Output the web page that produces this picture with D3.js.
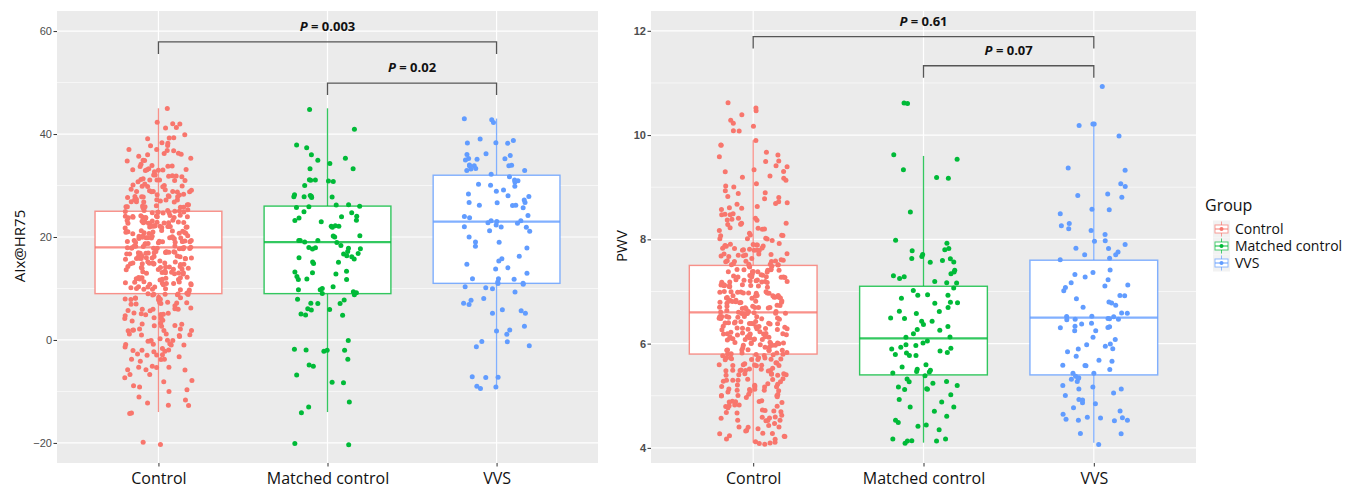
<!DOCTYPE html>
<html><head><meta charset="utf-8">
<script src="https://cdn.jsdelivr.net/npm/d3@7"></script>
<style>body{margin:0;background:#fff} svg{display:block}</style>
</head><body>
<svg id="chart" width="1360" height="491"></svg>
<script>
const groups = ["Control", "Matched control", "VVS"];
const colors = ["#F8766D", "#00BA38", "#619CFF"];
const aixTicks = [-20, 0, 20, 40, 60];
const aixMinor = [-10, 10, 30, 50];
const pwvTicks = [4, 6, 8, 10, 12];
const pwvMinor = [5, 7, 9, 11];

const aixControl = [45,42,42,41,41,40,42,
39,39,38,38,38,37,37,37,36,36,36,36,35,35,35,38,37,39,36,35,
34,34,34,33,33,33,33,33,32,32,32,32,31,31,31,31,31,30,30,30,30,30,34,33,32,31,30,34,33,32,31,30,33,31,
29,29,29,29,29,29,29,29,29,29,28,28,28,28,28,28,28,28,28,28,
27,27,27,27,27,27,27,27,27,27,26,26,26,26,26,26,26,26,26,26,
25,25,25,25,25,25,25,25,25,25,25,25,
24,24,24,24,24,24,24,24,24,24,24,24,24,24,23,23,23,23,23,23,23,23,23,23,23,23,23,23,
22,22,22,22,22,22,22,22,22,22,22,22,22,22,21,21,21,21,21,21,21,21,21,21,21,21,21,21,
20,20,20,20,20,20,20,20,20,20,20,20,20,20,
19,19,19,19,19,19,19,19,19,19,19,19,19,19,19,18,18,18,18,18,18,18,18,18,18,18,18,18,18,18,
17,17,17,17,17,17,17,17,17,17,17,17,17,17,16,16,16,16,16,16,16,16,16,16,16,16,16,16,
15,15,15,15,15,15,15,15,15,15,15,15,15,
14,14,14,14,14,14,14,14,14,14,14,14,13,13,13,13,13,13,13,13,13,13,13,
12,12,12,12,12,12,12,12,12,12,12,11,11,11,11,11,11,11,11,11,11,11,
10,10,10,10,10,10,10,10,10,10,
9,9,9,9,9,9,9,9,9,8,8,8,8,8,8,8,8,7,7,7,7,7,7,7,7,6,6,6,6,6,6,6,5,5,5,5,5,5,5,
4,4,4,4,4,4,3,3,3,3,3,3,2,2,2,2,2,2,2,1,1,1,1,1,1,0,0,0,0,0,0,
-1,-1,-1,-1,-1,-1,-2,-2,-2,-2,-2,-2,-3,-3,-3,-3,-3,-4,-4,-4,-4,-5,-5,-5,-5,
-6,-6,-6,-7,-7,-7,-8,-8,-9,-9,-10,-10,
-11,-12,-12,-13,-13,-14,-14,-20,-20];

const aixMatched = [45,41,38,37,36,35,35,34,33,33,
31,31,31,31,31,30,28,28,28,28,28,28,28,26,26,26,26,26,
25,25,24,24,24,23,23,23,22,22,22,22,
20,20,20,19,19,19,19,19,18,18,18,18,18,18,
17,17,17,16,16,16,16,15,15,15,13,13,13,13,12,12,12,12,
10,10,10,10,9,9,9,9,8,8,7,7,7,6,6,6,5,5,5,
0,-2,-2,-2,-2,-2,-4,-5,-5,-7,-8,-8,-12,-13,-14,-20,-20];

const aixVVS = [43,43,42,39,39,38,38,38,
36,36,36,35,35,35,35,34,34,34,34,34,33,33,33,33,
32,32,31,31,31,30,30,30,29,29,28,28,28,27,27,27,27,26,26,26,26,
24,24,24,23,23,23,23,23,22,22,22,22,21,21,20,19,19,18,18,
16,16,15,15,14,14,13,12,12,12,11,11,11,11,10,10,10,
9,8,8,7,7,6,6,5,5,3,2,2,1,0,0,-1,-1,-7,-7,-7,-9,-9,-9.5];

const pwvControl = [10.6,10.5,10.5,10.4,10.3,10.2,10.2,10.1,10.1,
9.9,9.8,9.8,9.7,9.6,9.6,9.5,9.5,
9.4,9.4,9.3,9.3,9.2,9.2,9.2,9.1,9.1,9.0,9.0,9.3,
8.9,8.9,8.8,8.8,8.8,8.7,8.7,8.7,8.6,8.6,8.6,8.5,8.5,8.5,8.5,8.9,8.7,8.6,
8.4,8.4,8.4,8.4,8.4,8.3,8.3,8.3,8.3,8.3,8.2,8.2,8.2,8.2,8.2,8.1,8.1,8.1,8.1,8.1,8.0,8.0,8.0,8.0,8.0,
7.9,7.9,7.9,7.9,7.9,7.9,7.9,7.9,7.9,7.8,7.8,7.8,7.8,7.8,7.8,7.8,7.8,7.8,
7.7,7.7,7.7,7.7,7.7,7.7,7.7,7.7,7.7,7.6,7.6,7.6,7.6,7.6,7.6,7.6,7.6,7.6,
7.5,7.5,7.5,7.5,7.5,7.5,7.5,7.5,7.5,
7.4,7.4,7.4,7.4,7.4,7.4,7.4,7.4,7.4,7.4,7.4,7.3,7.3,7.3,7.3,7.3,7.3,7.3,7.3,7.3,7.3,7.3,
7.2,7.2,7.2,7.2,7.2,7.2,7.2,7.2,7.2,7.2,7.2,7.1,7.1,7.1,7.1,7.1,7.1,7.1,7.1,7.1,7.1,7.1,
7.0,7.0,7.0,7.0,7.0,7.0,7.0,7.0,7.0,7.0,7.0,
6.9,6.9,6.9,6.9,6.9,6.9,6.9,6.9,6.9,6.9,6.9,6.9,6.8,6.8,6.8,6.8,6.8,6.8,6.8,6.8,6.8,6.8,6.8,6.8,
6.7,6.7,6.7,6.7,6.7,6.7,6.7,6.7,6.7,6.7,6.7,6.7,6.6,6.6,6.6,6.6,6.6,6.6,6.6,6.6,6.6,6.6,6.6,6.6,
6.5,6.5,6.5,6.5,6.5,6.5,6.5,6.5,6.5,6.5,6.5,6.5,
6.4,6.4,6.4,6.4,6.4,6.4,6.4,6.4,6.4,6.4,6.4,6.4,6.3,6.3,6.3,6.3,6.3,6.3,6.3,6.3,6.3,6.3,6.3,6.3,
6.2,6.2,6.2,6.2,6.2,6.2,6.2,6.2,6.2,6.2,6.2,6.2,6.1,6.1,6.1,6.1,6.1,6.1,6.1,6.1,6.1,6.1,6.1,6.1,
6.0,6.0,6.0,6.0,6.0,6.0,6.0,6.0,6.0,6.0,6.0,6.0,
5.9,5.9,5.9,5.9,5.9,5.9,5.9,5.9,5.9,5.9,5.8,5.8,5.8,5.8,5.8,5.8,5.8,5.8,5.8,5.8,
5.7,5.7,5.7,5.7,5.7,5.7,5.7,5.7,5.7,5.7,5.6,5.6,5.6,5.6,5.6,5.6,5.6,5.6,5.6,5.6,
5.5,5.5,5.5,5.5,5.5,5.5,5.5,5.5,5.5,5.5,
5.4,5.4,5.4,5.4,5.4,5.4,5.4,5.4,5.3,5.3,5.3,5.3,5.3,5.3,5.3,5.3,5.2,5.2,5.2,5.2,5.2,5.2,5.2,5.2,
5.1,5.1,5.1,5.1,5.1,5.1,5.1,5.1,5.0,5.0,5.0,5.0,5.0,5.0,5.0,5.0,
4.9,4.9,4.9,4.9,4.9,4.9,4.8,4.8,4.8,4.8,4.8,4.8,4.7,4.7,4.7,4.7,4.7,4.7,4.6,4.6,4.6,4.6,4.6,4.5,4.5,4.5,4.5,4.5,
4.4,4.4,4.4,4.4,4.4,4.3,4.3,4.3,4.3,4.3,4.2,4.2,4.2,4.2,4.2,4.1,4.1,4.1,4.1,4.1];

const pwvMatched = [10.6,10.6,9.6,9.55,9.35,9.15,9.2,8.5,7.95,7.9,
7.8,7.8,7.75,7.7,7.7,7.65,7.6,7.6,7.55,7.55,
7.4,7.4,7.35,7.3,7.3,7.25,7.2,7.2,7.15,7.1,
7.0,6.95,6.9,6.9,6.85,6.8,6.8,6.75,6.7,6.65,
6.6,6.55,6.5,6.5,6.45,6.4,6.4,6.35,6.3,6.25,6.2,
6.1,6.1,6.05,6.0,6.0,5.95,5.95,5.9,5.9,5.85,5.85,5.8,5.8,5.75,5.75,
5.6,5.55,5.5,5.5,5.45,5.45,5.4,5.4,5.35,
5.3,5.3,5.25,5.2,5.2,5.15,5.1,5.1,
5.0,4.95,4.9,4.8,4.75,4.7,4.6,4.55,4.5,4.45,4.4,4.35,
4.2,4.2,4.15,4.15,4.1,4.1];

const pwvVVS = [10.9,10.2,10.2,10.2,10.0,9.4,9.3,9.05,9.0,8.9,8.85,8.8,
8.6,8.55,8.5,8.3,8.25,8.2,8.15,8.1,
8.0,7.95,7.9,7.85,7.8,7.75,7.7,7.7,7.65,7.6,
7.4,7.35,7.3,7.3,7.25,7.2,7.15,7.1,7.1,
7.0,6.95,6.9,6.85,6.8,6.8,6.75,6.7,
6.6,6.6,6.55,6.55,6.5,6.5,6.5,6.45,6.45,6.45,
6.4,6.35,6.35,6.3,6.3,6.3,6.25,6.25,
6.1,6.05,6.0,6.0,5.95,5.9,5.9,5.85,
5.75,5.7,5.65,5.6,5.6,5.55,5.5,
5.45,5.4,5.4,5.35,5.3,5.3,5.25,5.2,5.2,5.15,5.15,
5.05,5.0,4.95,4.9,4.9,4.85,4.8,
4.7,4.65,4.6,4.6,4.55,4.55,4.5,4.5,4.5,4.3,4.3,4.1];

// box stats: [lower whisker, Q1, median, Q3, upper whisker]
const aixStats = [[-14, 9, 18, 25, 45], [-14, 9, 19, 26, 45], [-9.5, 11, 23, 32, 43]];
const pwvStats = [[4.1, 5.8, 6.6, 7.5, 9.9], [4.1, 5.4, 6.1, 7.1, 9.6], [4.1, 5.4, 6.5, 7.6, 10.2]];

const aixBrackets = [{a: 0, b: 2, label: "0.003", at: 57.9}, {a: 1, b: 2, label: "0.02", at: 49.9}];
const pwvBrackets = [{a: 0, b: 2, label: "0.61", at: 11.89}, {a: 1, b: 2, label: "0.07", at: 11.33}];

const svg = d3.select("#chart");
const plotTop = 11, plotBottom = 463;
const sansFont = "'Open Sans', 'Liberation Sans', sans-serif";
const tickFont = "'Liberation Sans', Arial, sans-serif";

// deterministic jitter (position only, like geom_jitter)
function hashUnit(i, seed) {
  let h = (Math.imul(i + 1, 2654435761) ^ Math.imul(seed, 40503)) >>> 0;
  h ^= h >>> 16; h = Math.imul(h, 0x45d9f3b) >>> 0;
  h ^= h >>> 16; h = Math.imul(h, 0x45d9f3b) >>> 0;
  h ^= h >>> 16;
  return (h >>> 0) / 4294967296;
}

function drawPanel(cfg) {
  const g = svg.append("g");
  const x = d3.scalePoint().domain(groups).range([cfg.x0, cfg.x1]).padding(0.6);
  const y = d3.scaleLinear().domain(cfg.domain).range([plotBottom, plotTop]);
  const step = x.step();

  g.append("rect").attr("x", cfg.x0).attr("y", plotTop)
    .attr("width", cfg.x1 - cfg.x0).attr("height", plotBottom - plotTop).attr("fill", "#EBEBEB");

  g.selectAll(".minor").data(cfg.minor).join("line")
    .attr("x1", cfg.x0).attr("x2", cfg.x1)
    .attr("y1", d => y(d)).attr("y2", d => y(d))
    .attr("stroke", "#fff").attr("stroke-width", 0.6);
  g.selectAll(".major").data(cfg.ticks).join("line")
    .attr("x1", cfg.x0).attr("x2", cfg.x1)
    .attr("y1", d => y(d)).attr("y2", d => y(d))
    .attr("stroke", "#fff").attr("stroke-width", 1.2);
  g.selectAll(".vgrid").data(groups).join("line")
    .attr("x1", d => x(d)).attr("x2", d => x(d))
    .attr("y1", plotTop).attr("y2", plotBottom)
    .attr("stroke", "#fff").attr("stroke-width", 1.2);

  const bw = step * 0.75;
  groups.forEach((grp, gi) => {
    const s = cfg.stats[gi];
    const cx = x(grp);
    const c = colors[gi];
    const bg = g.append("g").attr("stroke", c).attr("stroke-opacity", 0.8);
    bg.append("line").attr("x1", cx).attr("x2", cx).attr("y1", y(s[4])).attr("y2", y(s[3])).attr("stroke-width", 1.3);
    bg.append("line").attr("x1", cx).attr("x2", cx).attr("y1", y(s[1])).attr("y2", y(s[0])).attr("stroke-width", 1.3);
    bg.append("rect").attr("x", cx - bw / 2).attr("y", y(s[3]))
      .attr("width", bw).attr("height", y(s[1]) - y(s[3]))
      .attr("fill", "#fff").attr("stroke-width", 1.4);
    bg.append("line").attr("x1", cx - bw / 2).attr("x2", cx + bw / 2)
      .attr("y1", y(s[2])).attr("y2", y(s[2])).attr("stroke-width", 2.2);
  });

  cfg.data.forEach((arr, gi) => {
    const cx = x(groups[gi]);
    const seed = cfg.seed + gi * 17;
    g.append("g").selectAll("circle").data(arr).join("circle")
      .attr("cx", (d, i) => cx + (hashUnit(i, seed) * 2 - 1) * step * 0.2)
      .attr("cy", (d, i) => y(d) + (hashUnit(i, seed + 101) * 2 - 1) * 1.8)
      .attr("r", 2.5)
      .attr("fill", colors[gi]);
  });

  const yAxis = d3.axisLeft(y).tickValues(cfg.ticks).tickSize(3.5).tickPadding(1.5)
    .tickFormat(d => (d < 0 ? "\u2212" + Math.abs(d) : d));
  const ya = g.append("g").attr("transform", `translate(${cfg.x0},0)`).call(yAxis);
  ya.select(".domain").remove();
  ya.selectAll("line").attr("stroke", "#333").attr("stroke-width", 1);
  ya.selectAll("text").attr("fill", "#4D4D4D").style("font-family", tickFont)
    .style("font-size", "11px").style("font-weight", cfg.tickWeight);

  const xAxis = d3.axisBottom(x).tickSize(3.5).tickPadding(6.5);
  const xa = g.append("g").attr("transform", `translate(0,${plotBottom})`).call(xAxis);
  xa.select(".domain").remove();
  xa.selectAll("line").attr("stroke", "#333").attr("stroke-width", 1);
  xa.selectAll("text").attr("fill", "#111").style("font-family", sansFont).style("font-size", "16px");

  g.append("text")
    .attr("transform", `translate(${cfg.titleX},${(plotTop + plotBottom) / 2 + 9}) rotate(-90)`)
    .attr("text-anchor", "middle")
    .style("font-family", sansFont).style("font-size", "15px").attr("fill", "#111")
    .text(cfg.title);

  cfg.brackets.forEach(b => {
    const xa1 = x(groups[b.a]), xb1 = x(groups[b.b]), yy = y(b.at);
    g.append("path")
      .attr("d", `M${xa1},${yy + 12}V${yy}H${xb1}V${yy + 12}`)
      .attr("fill", "none").attr("stroke", "#555").attr("stroke-width", 1.3);
    const t = g.append("text").attr("x", (xa1 + xb1) / 2).attr("y", yy - 11)
      .attr("text-anchor", "middle")
      .style("font-family", sansFont).style("font-size", "13px").style("font-weight", "700").attr("fill", "#111");
    t.append("tspan").style("font-style", "italic").text("P");
    t.append("tspan").text(" = " + b.label);
  });
}

drawPanel({x0: 57, x1: 598, domain: [-23.9, 63.9], ticks: aixTicks, minor: aixMinor, seed: 3,
  stats: aixStats, data: [aixControl, aixMatched, aixVVS], title: "AIx@HR75", titleX: 25,
  brackets: aixBrackets, tickWeight: "400"});
drawPanel({x0: 651, x1: 1196, domain: [3.71, 12.38], ticks: pwvTicks, minor: pwvMinor, seed: 59,
  stats: pwvStats, data: [pwvControl, pwvMatched, pwvVVS], title: "PWV", titleX: 627,
  brackets: pwvBrackets, tickWeight: "700"});

const lg = svg.append("g").attr("transform", "translate(1205,0)");
lg.append("text").attr("x", 0).attr("y", 211).text("Group")
  .style("font-family", sansFont).style("font-size", "16px").attr("fill", "#111");
groups.forEach((grp, gi) => {
  const cy = 229 + gi * 17;
  const k = lg.append("g").attr("transform", `translate(8,${cy - 8.5})`);
  k.append("rect").attr("width", 17).attr("height", 17).attr("fill", "#F2F2F2");
  const kk = k.append("g").attr("stroke", colors[gi]).attr("stroke-opacity", 0.7);
  kk.append("line").attr("x1", 8.5).attr("x2", 8.5).attr("y1", 1).attr("y2", 16).attr("stroke-width", 1);
  kk.append("rect").attr("x", 2).attr("y", 4.5).attr("width", 13).attr("height", 8).attr("fill", "#fff").attr("stroke-width", 1);
  kk.append("line").attr("x1", 2).attr("x2", 15).attr("y1", 8.5).attr("y2", 8.5).attr("stroke-width", 1.4);
  k.append("circle").attr("cx", 8.5).attr("cy", 8.5).attr("r", 2).attr("fill", colors[gi]);
  lg.append("text").attr("x", 30).attr("y", cy + 5).text(grp)
    .style("font-family", sansFont).style("font-size", "14px").attr("fill", "#111");
});
</script>
</body></html>
